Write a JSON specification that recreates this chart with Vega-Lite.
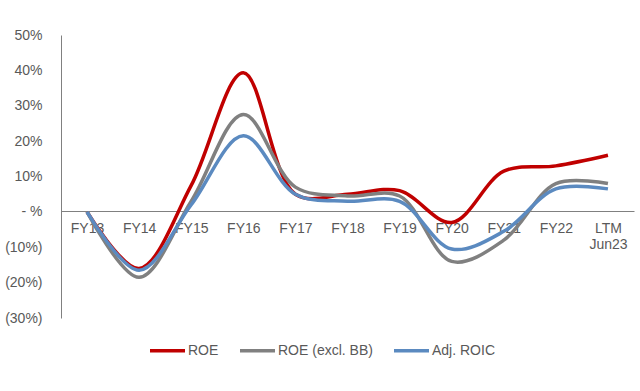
{
  "$schema": "https://vega.github.io/schema/vega-lite/v6.json",
  "autosize": {"type": "none"},
  "padding": {"left": 61, "top": 35, "right": 6, "bottom": 73},
  "width": 573,
  "height": 283,
  "background": "white",
  "config": {
    "view": {"stroke": null},
    "font": "Liberation Sans",
    "axis": {"labelFont": "Liberation Sans", "labelColor": "#595959", "labelFontSize": 14},
    "legend": {"labelFont": "Liberation Sans", "labelColor": "#595959", "labelFontSize": 14}
  },
  "data": {
    "values": [
      {"period": "FY13", "series": "ROE", "value": 0.0},
      {"period": "FY14", "series": "ROE", "value": -0.16},
      {"period": "FY15", "series": "ROE", "value": 0.075},
      {"period": "FY16", "series": "ROE", "value": 0.393},
      {"period": "FY17", "series": "ROE", "value": 0.05},
      {"period": "FY18", "series": "ROE", "value": 0.05},
      {"period": "FY19", "series": "ROE", "value": 0.06},
      {"period": "FY20", "series": "ROE", "value": -0.03},
      {"period": "FY21", "series": "ROE", "value": 0.115},
      {"period": "FY22", "series": "ROE", "value": 0.13},
      {"period": "LTM Jun23", "series": "ROE", "value": 0.16},
      {"period": "FY13", "series": "ROE (excl. BB)", "value": 0.0},
      {"period": "FY14", "series": "ROE (excl. BB)", "value": -0.185},
      {"period": "FY15", "series": "ROE (excl. BB)", "value": 0.03},
      {"period": "FY16", "series": "ROE (excl. BB)", "value": 0.275},
      {"period": "FY17", "series": "ROE (excl. BB)", "value": 0.07},
      {"period": "FY18", "series": "ROE (excl. BB)", "value": 0.045},
      {"period": "FY19", "series": "ROE (excl. BB)", "value": 0.045},
      {"period": "FY20", "series": "ROE (excl. BB)", "value": -0.14},
      {"period": "FY21", "series": "ROE (excl. BB)", "value": -0.08},
      {"period": "FY22", "series": "ROE (excl. BB)", "value": 0.08},
      {"period": "LTM Jun23", "series": "ROE (excl. BB)", "value": 0.08},
      {"period": "FY13", "series": "Adj. ROIC", "value": 0.0},
      {"period": "FY14", "series": "Adj. ROIC", "value": -0.165},
      {"period": "FY15", "series": "Adj. ROIC", "value": 0.02},
      {"period": "FY16", "series": "Adj. ROIC", "value": 0.215},
      {"period": "FY17", "series": "Adj. ROIC", "value": 0.05},
      {"period": "FY18", "series": "Adj. ROIC", "value": 0.03},
      {"period": "FY19", "series": "Adj. ROIC", "value": 0.03},
      {"period": "FY20", "series": "Adj. ROIC", "value": -0.105},
      {"period": "FY21", "series": "Adj. ROIC", "value": -0.055},
      {"period": "FY22", "series": "Adj. ROIC", "value": 0.065},
      {"period": "LTM Jun23", "series": "Adj. ROIC", "value": 0.065}
    ]
  },
  "mark": {"type": "line", "interpolate": "catmull-rom", "strokeWidth": 3.5},
  "encoding": {
    "x": {
      "field": "period",
      "type": "ordinal",
      "sort": null,
      "title": null,
      "scale": {"paddingInner": 0, "paddingOuter": 0.5},
      "axis": {
        "offset": -107,
        "domainColor": "#808080",
        "domainWidth": 1,
        "ticks": false,
        "labelAngle": 0,
        "labelPadding": 10,
        "labelExpr": "datum.value == 'LTM Jun23' ? ['LTM', 'Jun23'] : datum.label",
        "labelLineHeight": 16,
        "zindex": 0
      }
    },
    "y": {
      "field": "value",
      "type": "quantitative",
      "title": null,
      "scale": {"domain": [-0.3, 0.5], "nice": false, "zero": false},
      "axis": {
        "values": [-0.3, -0.2, -0.1, 0, 0.1, 0.2, 0.3, 0.4, 0.5],
        "grid": false,
        "ticks": false,
        "domainColor": "#808080",
        "labelPadding": 19,
        "labelExpr": "datum.value == 0 ? '- %' : (datum.value > 0 ? format(datum.value, '.0%') : '(' + format(-datum.value, '.0%') + ')')"
      }
    },
    "color": {
      "field": "series",
      "type": "nominal",
      "sort": null,
      "scale": {
        "domain": ["ROE", "ROE (excl. BB)", "Adj. ROIC"],
        "range": ["#C00000", "#808080", "#5B8AC0"]
      },
      "legend": {
        "title": null,
        "orient": "none",
        "direction": "horizontal",
        "legendX": 87,
        "legendY": 296,
        "symbolType": "stroke",
        "symbolSize": 1225,
        "symbolStrokeWidth": 3.5,
        "labelOffset": 1,
        "columnPadding": 14
      }
    }
  }
}
